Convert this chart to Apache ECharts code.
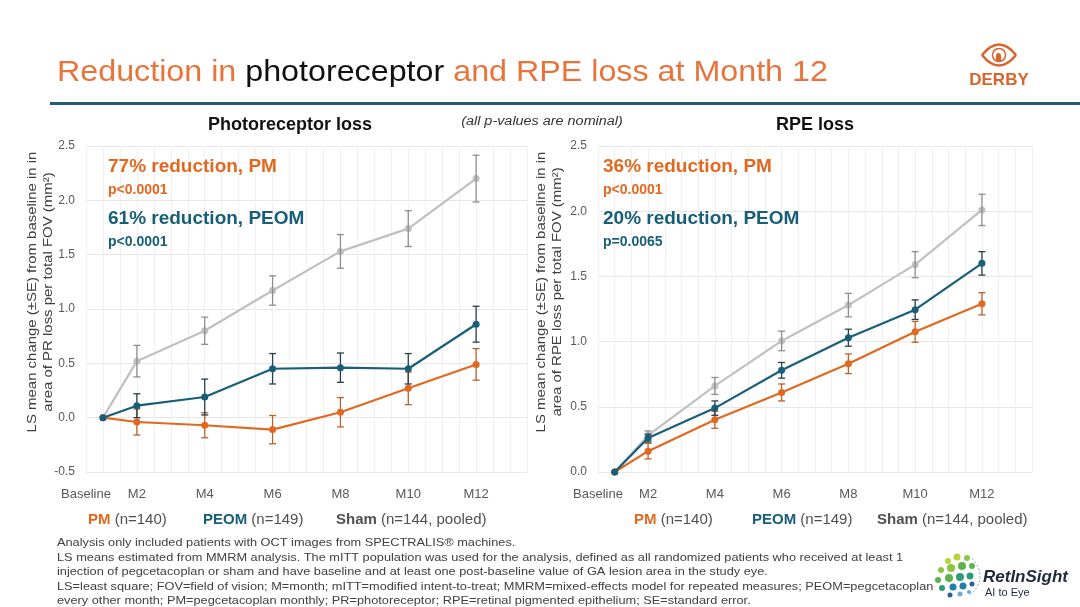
<!DOCTYPE html>
<html><head><meta charset="utf-8">
<script src="https://cdn.jsdelivr.net/npm/echarts@6/dist/echarts.min.js"></script>
<style>html,body{margin:0;padding:0;background:#fff}#c{width:1080px;height:607px}</style>
</head><body><div id="c"></div>
<script>
// ---- data ----
const visitMonths = [1, 2, 4, 6, 8, 10, 12];
const xTickValues = [0.5, 2, 4, 6, 8, 10, 12];
const xTickLabels = ['Baseline', 'M2', 'M4', 'M6', 'M8', 'M10', 'M12'];
const yTicksPR = [-0.5, 0, 0.5, 1, 1.5, 2, 2.5];
const yTicksRPE = [0, 0.5, 1, 1.5, 2, 2.5];

// Photoreceptor loss: mean and SE
const prShamMean = [0, 0.52, 0.80, 1.17, 1.53, 1.74, 2.20];
const prShamSE   = [0, 0.145, 0.125, 0.135, 0.155, 0.165, 0.215];
const prPeomMean = [0, 0.11, 0.19, 0.45, 0.46, 0.45, 0.86];
const prPeomSE   = [0, 0.11, 0.165, 0.14, 0.135, 0.14, 0.165];
const prPmMean   = [0, -0.04, -0.07, -0.11, 0.05, 0.27, 0.49];
const prPmSE     = [0, 0.12, 0.115, 0.13, 0.135, 0.15, 0.145];

// RPE loss: mean and SE
const rpeShamMean = [0, 0.28, 0.66, 1.005, 1.28, 1.59, 2.01];
const rpeShamSE   = [0, 0.035, 0.065, 0.075, 0.09, 0.10, 0.12];
const rpePeomMean = [0, 0.26, 0.49, 0.78, 1.03, 1.245, 1.60];
const rpePeomSE   = [0, 0.03, 0.055, 0.06, 0.065, 0.075, 0.09];
const rpePmMean   = [0, 0.16, 0.40, 0.61, 0.83, 1.075, 1.29];
const rpePmSE     = [0, 0.06, 0.065, 0.065, 0.075, 0.08, 0.085];

// ---- styling ----
const ORANGE = '#E2681F', TEAL = '#175E78', GRAY = '#C0C0C0';
const ORANGE_E = '#B8622E', TEAL_E = '#2A3F48', GRAY_E = '#8E8E8E';
const FONT = 'Liberation Sans, Arial, sans-serif';

const pts = (m) => visitMonths.map((x, i) => [x, m[i]]);
const errPts = (m, s) => visitMonths.map((x, i) => [x, m[i], s[i]]).filter(d => d[2] > 0);

function errSeries(idx, m, s, color) {
  return {
    type: 'custom', xAxisIndex: idx, yAxisIndex: idx, silent: true, z: 3,
    data: errPts(m, s),
    renderItem: function (params, api) {
      const x = api.value(0), y = api.value(1), se = api.value(2);
      const t = api.coord([x, y + se]), b = api.coord([x, y - se]);
      const w = 3.5;
      const st = { stroke: color, lineWidth: 1.3 };
      return { type: 'group', children: [
        { type: 'line', shape: { x1: t[0], y1: t[1], x2: b[0], y2: b[1] }, style: st },
        { type: 'line', shape: { x1: t[0] - w, y1: t[1], x2: t[0] + w, y2: t[1] }, style: st },
        { type: 'line', shape: { x1: b[0] - w, y1: b[1], x2: b[0] + w, y2: b[1] }, style: st }
      ]};
    }
  };
}
function lineSeries(idx, m, color, z) {
  return {
    type: 'line', xAxisIndex: idx, yAxisIndex: idx, data: pts(m), z: z,
    symbol: 'circle', symbolSize: 7, showSymbol: true, silent: true,
    lineStyle: { color: color, width: 2.2 }, itemStyle: { color: color }
  };
}
function xAxis(idx) {
  return {
    type: 'value', gridIndex: idx, min: 0.5, max: 13.5, interval: 0.5,
    axisLine: { show: false }, axisTick: { show: false },
    splitLine: { show: true, lineStyle: { color: '#F0F0F0', width: 1 } },
    axisLabel: {
      margin: 16, color: '#595959', fontSize: 13, fontFamily: FONT,
      showMinLabel: true, showMaxLabel: false,
      formatter: function (v) { const i = xTickValues.indexOf(v); return i >= 0 ? xTickLabels[i] : ''; }
    }
  };
}
function yAxis(idx, ticks) {
  return {
    type: 'value', gridIndex: idx, min: ticks[0], max: ticks[ticks.length - 1], interval: 0.5,
    axisLine: { show: false }, axisTick: { show: false },
    splitLine: { show: true, lineStyle: { color: '#E6E6E6', width: 1 } },
    axisLabel: { margin: 11, color: '#595959', fontSize: 12, fontFamily: FONT, formatter: v => v.toFixed(1) }
  };
}

const legendRich = {
  pm: { fontFamily: FONT, fontSize: 15, fontWeight: 'bold', fill: ORANGE, color: ORANGE },
  pe: { fontFamily: FONT, fontSize: 15, fontWeight: 'bold', fill: TEAL, color: TEAL },
  sh: { fontFamily: FONT, fontSize: 15, fontWeight: 'bold', fill: '#505050', color: '#505050' },
  n:  { fontFamily: FONT, fontSize: 15, fill: '#505050', color: '#505050' }
};

function annot(x, big1, p1, big2, p2) {
  return [
    { type: 'text', x: x, y: 167, style: { text: big1, fontFamily: FONT, fontSize: 19, fontWeight: 'bold', fill: ORANGE, verticalAlign: 'middle' } },
    { type: 'text', x: x, y: 190, style: { text: p1, fontFamily: FONT, fontSize: 14, fontWeight: 'bold', fill: ORANGE, verticalAlign: 'middle' } },
    { type: 'text', x: x, y: 219, style: { text: big2, fontFamily: FONT, fontSize: 19, fontWeight: 'bold', fill: TEAL, verticalAlign: 'middle' } },
    { type: 'text', x: x, y: 242, style: { text: p2, fontFamily: FONT, fontSize: 14, fontWeight: 'bold', fill: TEAL, verticalAlign: 'middle' } }
  ];
}
function yName(cx, cy, l1, l2) {
  return {
    type: 'text', x: cx, y: cy, rotation: Math.PI / 2, scaleX: 1.15,
    style: { text: l1 + '\n' + l2, fontFamily: FONT, fontSize: 13, fill: '#404040', align: 'center', verticalAlign: 'middle', lineHeight: 16 }
  };
}
function legendRow(x1, x2, x3, y) {
  return [
    { type: 'text', x: x1, y: y, style: { text: '{pm|PM}{n| (n=140)}', rich: legendRich, verticalAlign: 'middle' } },
    { type: 'text', x: x2, y: y, style: { text: '{pe|PEOM}{n| (n=149)}', rich: legendRich, verticalAlign: 'middle' } },
    { type: 'text', x: x3, y: y, style: { text: '{sh|Sham}{n| (n=144, pooled)}', rich: legendRich, verticalAlign: 'middle' } }
  ];
}

const footLines = [
  'Analysis only included patients with OCT images from SPECTRALIS\u00AE machines.',
  'LS means estimated from MMRM analysis. The mITT population was used for the analysis, defined as all randomized patients who received at least 1',
  'injection of pegcetacoplan or sham and have baseline and at least one post-baseline value of GA lesion area in the study eye.',
  'LS=least square; FOV=field of vision; M=month; mITT=modified intent-to-treat; MMRM=mixed-effects model for repeated measures; PEOM=pegcetacoplan',
  'every other month; PM=pegcetacoplan monthly; PR=photoreceptor; RPE=retinal pigmented epithelium; SE=standard error.'
];

// Logos (drawn)
const LOGO_OR = '#D9642C';
const derbyLogo = [
  { type: 'bezierCurve', shape: { x1: 982, y1: 55, x2: 1016, y2: 55, cpx1: 999, cpy1: 34 }, style: { fill: 'none', stroke: LOGO_OR, lineWidth: 2.6 } },
  { type: 'bezierCurve', shape: { x1: 982, y1: 55, x2: 1016, y2: 55, cpx1: 999, cpy1: 76 }, style: { fill: 'none', stroke: LOGO_OR, lineWidth: 2.6 } },
  { type: 'circle', shape: { cx: 999, cy: 55, r: 6.5 }, style: { fill: 'none', stroke: LOGO_OR, lineWidth: 1.5 } },
  { type: 'rect', shape: { x: 996, y: 53, width: 5, height: 8, r: [2.5, 2.5, 0, 0] }, style: { fill: LOGO_OR } },
  { type: 'text', x: 999, y: 80, style: { text: 'DERBY', fontFamily: FONT, fontSize: 17, fontWeight: 'bold', fill: LOGO_OR, align: 'center', verticalAlign: 'middle' } }
];
const dotColors = ['#B7D43A', '#8CC63F', '#5DB24A', '#2E9C7A', '#1F7FA8', '#2C5E9E', '#6FA8D2'];
const dotSpec = [[948,561,3,0],[957,557,3.5,0],[967,558,3,1],[941,570,3,1],[951,568,4,1],[962,566,4,2],[972,566,3,2],[938,580,3,2],[949,578,4,2],[960,577,4,3],[970,576,3.5,3],[942,588,3,3],[953,587,3.5,4],[963,586,3.5,4],[972,584,2.5,5],[950,595,2.5,5],[960,594,2.5,6],[969,592,2,6]];
const retLogo = dotSpec.map(d => ({ type: 'circle', shape: { cx: d[0], cy: d[1], r: d[2] }, style: { fill: dotColors[d[3]] } })).concat([
  { type: 'arc', shape: { cx: 958, cy: 576, r: 22, startAngle: -0.9, endAngle: 1.0 }, style: { fill: 'none', stroke: '#7A9BB5', lineWidth: 1, lineDash: [2, 2] } },
  { type: 'text', x: 983, y: 577, style: { text: 'RetInSight', fontFamily: FONT, fontSize: 17, fontStyle: 'italic', fontWeight: 'bold', fill: '#1D2A3A', verticalAlign: 'middle' } },
  { type: 'text', x: 985, y: 593, style: { text: 'AI to Eye', fontFamily: FONT, fontSize: 11, fill: '#1D2A3A', verticalAlign: 'middle' } }
]);

const graphics = [
  { type: 'text', x: 57, y: 73, scaleX: 1.075, style: {
      text: '{o|Reduction in }{b|photoreceptor}{o| and RPE loss at Month 12}',
      rich: { o: { fontFamily: FONT, fontSize: 30, fill: '#E8743B', color: '#E8743B' }, b: { fontFamily: FONT, fontSize: 30, fill: '#111', color: '#111' } },
      verticalAlign: 'middle' } },
  { type: 'rect', shape: { x: 50, y: 102, width: 1030, height: 3 }, style: { fill: '#1E5C7A' } },
  { type: 'text', x: 290, y: 125, style: { text: 'Photoreceptor loss', fontFamily: FONT, fontSize: 18, fontWeight: 'bold', fill: '#111', align: 'center', verticalAlign: 'middle' } },
  { type: 'text', x: 815, y: 125, style: { text: 'RPE loss', fontFamily: FONT, fontSize: 18, fontWeight: 'bold', fill: '#111', align: 'center', verticalAlign: 'middle' } },
  { type: 'text', x: 542, y: 122, scaleX: 1.2, style: { text: '(all p-values are nominal)', fontFamily: FONT, fontSize: 12, fontStyle: 'italic', fill: '#333', align: 'center', verticalAlign: 'middle' } },
  yName(40, 292, 'LS mean change (\u00B1SE) from baseline in in', 'area of PR loss per total FOV (mm\u00B2)'),
  yName(549, 292, 'LS mean change (\u00B1SE) from baseline in in', 'area of RPE loss per total FOV (mm\u00B2)')
].concat(
  annot(108, '77% reduction, PM', 'p<0.0001', '61% reduction, PEOM', 'p<0.0001'),
  annot(603, '36% reduction, PM', 'p<0.0001', '20% reduction, PEOM', 'p=0.0065'),
  legendRow(88, 203, 336, 520),
  legendRow(634, 752, 877, 520),
  footLines.map((t, i) => ({ type: 'text', x: 57, y: 543 + i * 14.6, scaleX: 1.16, style: { text: t, fontFamily: FONT, fontSize: 11, fill: '#404040', verticalAlign: 'middle' } })),
  derbyLogo, retLogo
).map(g => Object.assign({ z: 100 }, g));

const chart = echarts.init(document.getElementById('c'), null, { renderer: 'canvas' });
chart.setOption({
  animation: false,
  backgroundColor: '#fff',
  grid: [
    { left: 86, top: 146, width: 441, height: 326 },
    { left: 598, top: 146, width: 434, height: 326 }
  ],
  xAxis: [xAxis(0), xAxis(1)],
  yAxis: [yAxis(0, yTicksPR), yAxis(1, yTicksRPE)],
  series: [
    lineSeries(0, prShamMean, GRAY, 2), errSeries(0, prShamMean, prShamSE, GRAY_E),
    lineSeries(0, prPmMean, ORANGE, 4), errSeries(0, prPmMean, prPmSE, ORANGE_E),
    lineSeries(0, prPeomMean, TEAL, 6), errSeries(0, prPeomMean, prPeomSE, TEAL_E),
    lineSeries(1, rpeShamMean, GRAY, 2), errSeries(1, rpeShamMean, rpeShamSE, GRAY_E),
    lineSeries(1, rpePmMean, ORANGE, 4), errSeries(1, rpePmMean, rpePmSE, ORANGE_E),
    lineSeries(1, rpePeomMean, TEAL, 6), errSeries(1, rpePeomMean, rpePeomSE, TEAL_E)
  ],
  graphic: { elements: graphics }
});
</script></body></html>
